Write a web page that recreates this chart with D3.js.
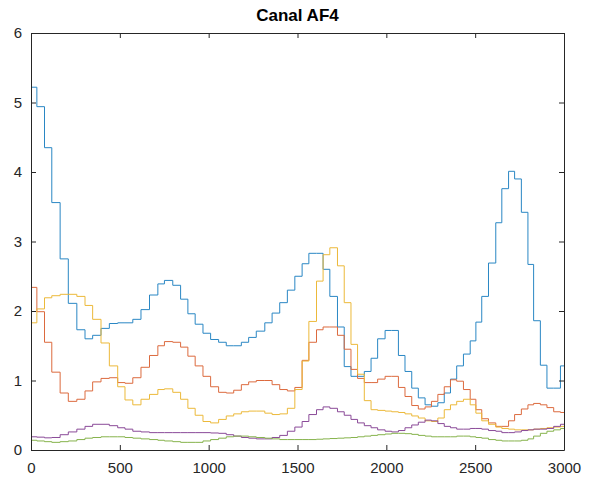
<!DOCTYPE html>
<html>
<head>
<meta charset="utf-8">
<script src="https://cdn.jsdelivr.net/npm/d3@7"></script>
<style>
  body { margin: 0; background: #fff; }
  svg { display: block; font-family: "Liberation Sans", Arial, Helvetica, sans-serif; }
</style>
</head>
<body>
<div id="chart"></div>
<script>
const title = "Canal AF4";
const xTicks = [0, 500, 1000, 1500, 2000, 2500, 3000];
const yTicks = [0, 1, 2, 3, 4, 5, 6];

// start of each stair step (x units)
const stepStarts = [
  0, 33, 76, 117, 164, 210, 258, 304, 347, 394,
  441, 488, 529, 573, 619, 667, 714, 751, 798, 842,
  883, 924, 968, 1011, 1056, 1099, 1141, 1184, 1225, 1268,
  1316, 1357, 1400, 1443, 1485, 1526, 1564, 1607, 1644, 1682,
  1725, 1763, 1801, 1838, 1876, 1914, 1951, 1993, 2030, 2068,
  2105, 2143, 2180, 2218, 2254, 2290, 2326, 2361, 2396, 2434,
  2472, 2504, 2537, 2575, 2616, 2650, 2688, 2722, 2760, 2797,
  2829, 2867, 2904, 2942, 2980
];

const blue = [
  5.22, 4.94, 4.35, 3.56, 2.75, 2.11, 1.73, 1.60, 1.65, 1.75,
  1.82, 1.83, 1.83, 1.88, 2.02, 2.23, 2.39, 2.44, 2.37, 2.17,
  1.96, 1.81, 1.68, 1.59, 1.55, 1.50, 1.50, 1.55, 1.62, 1.71,
  1.83, 1.97, 2.12, 2.30, 2.50, 2.68, 2.83, 2.83, 2.60, 2.21,
  1.77, 1.20, 1.06, 1.06, 1.13, 1.32, 1.60, 1.72, 1.72, 1.36,
  1.13, 0.89, 0.75, 0.65, 0.63, 0.68, 0.82, 1.02, 1.21, 1.38,
  1.57, 1.84, 2.21, 2.69, 3.27, 3.76, 4.01, 3.90, 3.42, 2.67,
  1.86, 1.22, 0.89, 0.89, 1.21
];

const orange = [
  2.34, 1.99, 1.55, 1.12, 0.82, 0.70, 0.73, 0.85, 0.98, 1.03,
  1.04, 0.97, 0.96, 1.04, 1.19, 1.36, 1.50, 1.56, 1.55, 1.48,
  1.35, 1.21, 1.06, 0.91, 0.83, 0.82, 0.86, 0.94, 0.98, 1.00,
  1.00, 0.94, 0.87, 0.85, 0.90, 1.29, 1.55, 1.73, 1.77, 1.77,
  1.65, 1.45, 1.16, 1.03, 0.97, 0.97, 1.02, 1.06, 1.06, 0.90,
  0.77, 0.64, 0.59, 0.62, 0.70, 0.80, 0.91, 1.01, 0.99, 0.87,
  0.73, 0.58, 0.45, 0.39, 0.34, 0.34, 0.42, 0.51, 0.59, 0.65,
  0.67, 0.65, 0.61, 0.55, 0.54
];

const yellow = [
  1.83, 2.03, 2.19, 2.22, 2.24, 2.24, 2.21, 2.08, 1.88, 1.54,
  1.21, 0.91, 0.72, 0.65, 0.73, 0.80, 0.87, 0.88, 0.83, 0.73,
  0.60, 0.50, 0.41, 0.39, 0.44, 0.49, 0.52, 0.55, 0.56, 0.56,
  0.53, 0.51, 0.52, 0.60, 0.87, 1.28, 1.85, 2.43, 2.81, 2.91,
  2.65, 2.12, 1.52, 1.09, 0.71, 0.58, 0.57, 0.56, 0.55, 0.54,
  0.52, 0.49, 0.46, 0.42, 0.41, 0.46, 0.58, 0.65, 0.70, 0.73,
  0.65, 0.53, 0.42, 0.37, 0.33, 0.31, 0.30, 0.29, 0.29, 0.29,
  0.30, 0.31, 0.32, 0.33, 0.34
];

const purple = [
  0.19, 0.185, 0.175, 0.18, 0.22, 0.26, 0.30, 0.34, 0.37, 0.37,
  0.35, 0.32, 0.30, 0.27, 0.26, 0.25, 0.25, 0.25, 0.25, 0.25,
  0.25, 0.25, 0.25, 0.245, 0.24, 0.22, 0.20, 0.18, 0.17, 0.16,
  0.16, 0.18, 0.21, 0.27, 0.33, 0.41, 0.51, 0.58, 0.62, 0.60,
  0.55, 0.50, 0.44, 0.39, 0.35, 0.32, 0.29, 0.27, 0.26, 0.28,
  0.32, 0.36, 0.40, 0.43, 0.42, 0.38, 0.34, 0.32, 0.30, 0.30,
  0.31, 0.31, 0.30, 0.28, 0.27, 0.25, 0.25, 0.26, 0.28, 0.29,
  0.30, 0.30, 0.31, 0.34, 0.37
];

const green = [
  0.14, 0.13, 0.12, 0.11, 0.12, 0.13, 0.15, 0.17, 0.18, 0.19,
  0.19, 0.19, 0.18, 0.17, 0.16, 0.15, 0.14, 0.13, 0.12, 0.11,
  0.11, 0.11, 0.13, 0.15, 0.17, 0.19, 0.20, 0.20, 0.19, 0.18,
  0.17, 0.16, 0.15, 0.15, 0.15, 0.15, 0.15, 0.155, 0.16, 0.165,
  0.17, 0.175, 0.18, 0.19, 0.20, 0.21, 0.22, 0.23, 0.24, 0.24,
  0.235, 0.225, 0.21, 0.20, 0.19, 0.19, 0.19, 0.19, 0.20, 0.20,
  0.19, 0.18, 0.17, 0.15, 0.14, 0.13, 0.13, 0.13, 0.14, 0.16,
  0.20, 0.24, 0.27, 0.29, 0.31
];

const series = [blue, orange, yellow, purple, green];
const colors = ["#2a87c4", "#dc6a3e", "#ecb93a", "#8a4a98", "#86b34c"];

const W = 595, H = 477;
const margin = { top: 33, right: 31, bottom: 27, left: 31 };
const width = W - margin.left - margin.right;
const height = H - margin.top - margin.bottom;
const ink = "#262626";

const svg = d3.select("#chart").append("svg")
    .attr("width", W)
    .attr("height", H);

svg.append("rect").attr("width", W).attr("height", H).attr("fill", "#fff");

const g = svg.append("g")
    .attr("transform", "translate(" + margin.left + "," + margin.top + ")");

const x = d3.scaleLinear().domain([xTicks[0], xTicks[xTicks.length - 1]]).range([0, width]);
const y = d3.scaleLinear().domain([yTicks[0], yTicks[yTicks.length - 1]]).range([height, 0]);

g.append("clipPath").attr("id", "plotClip")
    .append("rect").attr("width", width).attr("height", height);

// stairs
const line = d3.line()
    .x(d => x(d[0]))
    .y(d => y(d[1]))
    .curve(d3.curveStepAfter);

series.forEach((vals, k) => {
    const pts = stepStarts.map((s, i) => [s, vals[i]]);
    pts.push([x.domain()[1], vals[vals.length - 1]]);
    g.append("path")
        .datum(pts)
        .attr("clip-path", "url(#plotClip)")
        .attr("fill", "none")
        .attr("stroke", colors[k])
        .attr("stroke-width", 1)
        .attr("d", line);
});

// axes, ticks pointing inward (box on)
const fmt = d3.format("d");
function styleAxis(sel) {
    sel.selectAll("path").attr("stroke", ink);
    sel.selectAll("line").attr("stroke", ink);
    sel.selectAll("text").attr("fill", ink).style("font-size", "15px");
}

g.append("g")
    .attr("transform", "translate(0," + height + ")")
    .call(d3.axisBottom(x).tickValues(xTicks).tickFormat(fmt).tickSizeInner(-5).tickSizeOuter(0).tickPadding(12))
    .call(styleAxis);

g.append("g")
    .call(d3.axisLeft(y).tickValues(yTicks).tickFormat(fmt).tickSizeInner(-5).tickSizeOuter(0).tickPadding(9))
    .call(styleAxis);

g.append("g")
    .call(d3.axisTop(x).tickValues(xTicks).tickSizeInner(-5).tickSizeOuter(0).tickFormat(""))
    .call(styleAxis);

g.append("g")
    .attr("transform", "translate(" + width + ",0)")
    .call(d3.axisRight(y).tickValues(yTicks).tickSizeInner(-5).tickSizeOuter(0).tickFormat(""))
    .call(styleAxis);

svg.append("text")
    .attr("x", margin.left + width / 2)
    .attr("y", 21)
    .attr("text-anchor", "middle")
    .attr("fill", "#000")
    .style("font-size", "17px")
    .style("font-weight", "bold")
    .text(title);
</script>
</body>
</html>
